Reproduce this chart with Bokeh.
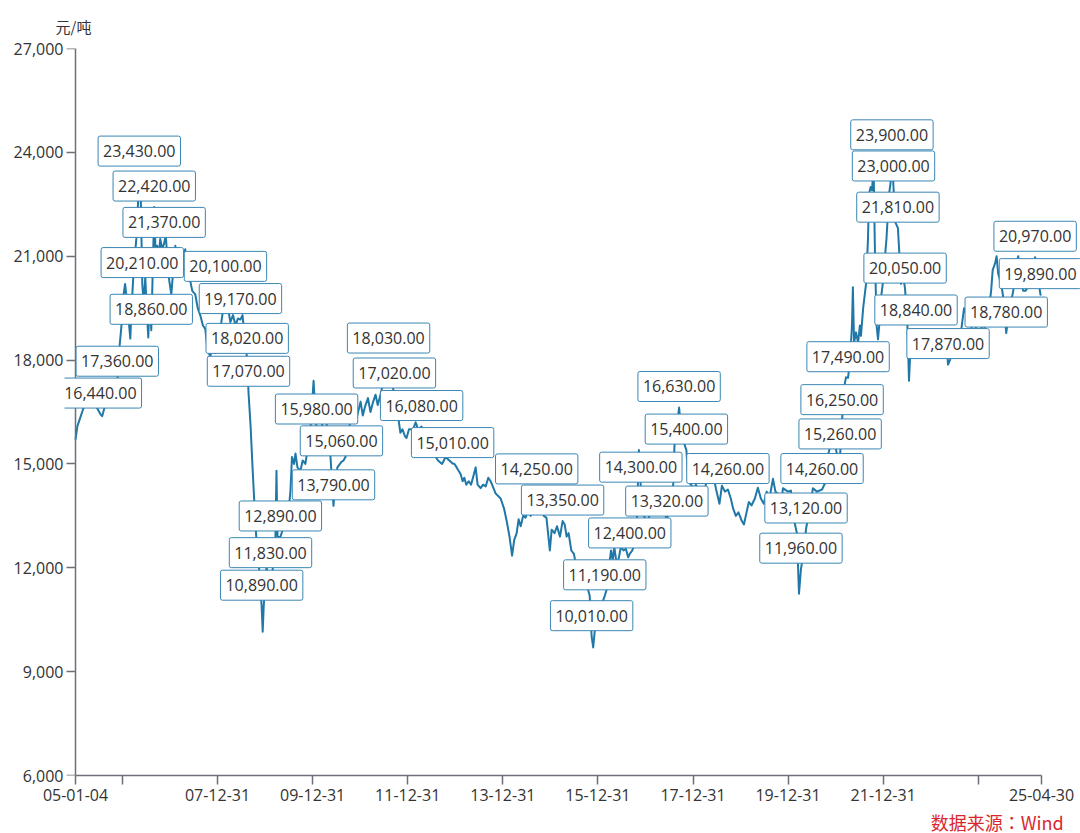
import pandas as pd
from bokeh.plotting import figure
from bokeh.layouts import column
from bokeh.models import Label, FixedTicker, NumeralTickFormatter, Range1d, Title, LinearAxis
from bokeh.embed import file_html
from bokeh.resources import INLINE

# ---------------- data ----------------
DATES = [
    "2005-01-04", "2005-01-19", "2005-02-11", "2005-03-05", "2005-04-05", "2005-05-13", "2005-06-13",
    "2005-07-14", "2005-07-28", "2005-08-13", "2005-09-13", "2005-10-13", "2005-11-05", "2005-11-21",
    "2005-12-06", "2005-12-21", "2006-01-05", "2006-01-20", "2006-02-06", "2006-02-20", "2006-03-01",
    "2006-03-12", "2006-03-24", "2006-04-05", "2006-04-16", "2006-04-28", "2006-05-09", "2006-05-20",
    "2006-06-01", "2006-06-12", "2006-06-24", "2006-07-05", "2006-07-17", "2006-07-28", "2006-08-09",
    "2006-08-20", "2006-09-01", "2006-09-12", "2006-09-24", "2006-10-05", "2006-10-17", "2006-11-01",
    "2006-11-16", "2006-11-28", "2006-12-10", "2006-12-25", "2007-01-10", "2007-01-25", "2007-02-10",
    "2007-02-25", "2007-03-15", "2007-04-05", "2007-04-27", "2007-05-15", "2007-06-04", "2007-06-20",
    "2007-07-13", "2007-08-01", "2007-08-20", "2007-09-10", "2007-09-28", "2007-10-15", "2007-11-05",
    "2007-11-25", "2007-12-14", "2008-01-05", "2008-01-22", "2008-02-10", "2008-03-01", "2008-03-20",
    "2008-04-08", "2008-04-28", "2008-05-17", "2008-06-05", "2008-06-24", "2008-07-10", "2008-07-25",
    "2008-08-15", "2008-08-25", "2008-09-10", "2008-09-25", "2008-10-10", "2008-10-25", "2008-11-05",
    "2008-11-17", "2008-11-28", "2008-12-04", "2008-12-12", "2008-12-20", "2008-12-31", "2009-01-10",
    "2009-01-20", "2009-02-10", "2009-02-25", "2009-03-10", "2009-03-20", "2009-03-28", "2009-04-05",
    "2009-04-27", "2009-05-15", "2009-06-05", "2009-06-20", "2009-07-13", "2009-07-25", "2009-08-10",
    "2009-08-21", "2009-09-05", "2009-09-28", "2009-10-15", "2009-11-05", "2009-11-25", "2009-12-14",
    "2010-01-07", "2010-01-20", "2010-01-30", "2010-02-15", "2010-03-02", "2010-03-20", "2010-04-09",
    "2010-04-25", "2010-05-17", "2010-06-09", "2010-06-25", "2010-07-09", "2010-08-09", "2010-08-25",
    "2010-09-09", "2010-09-25", "2010-10-17", "2010-11-05", "2010-11-25", "2010-12-15", "2011-01-03",
    "2011-01-20", "2011-02-10", "2011-03-01", "2011-03-20", "2011-04-10", "2011-04-28", "2011-05-15",
    "2011-06-05", "2011-07-06", "2011-08-06", "2011-08-20", "2011-09-20", "2011-10-05", "2011-10-21",
    "2011-11-05", "2011-11-21", "2011-12-10", "2011-12-22", "2012-01-10", "2012-02-10", "2012-03-01",
    "2012-03-20", "2012-04-16", "2012-05-05", "2012-05-25", "2012-06-10", "2012-07-15", "2012-08-20",
    "2012-09-20", "2012-10-17", "2012-11-15", "2012-12-10", "2012-12-25", "2013-01-10", "2013-01-25",
    "2013-02-10", "2013-02-25", "2013-03-10", "2013-03-25", "2013-04-13", "2013-05-01", "2013-06-05",
    "2013-06-20", "2013-07-13", "2013-08-01", "2013-08-21", "2013-09-10", "2013-09-28", "2013-10-20",
    "2013-11-05", "2013-12-14", "2014-01-10", "2014-02-01", "2014-02-20", "2014-03-12", "2014-03-28",
    "2014-04-16", "2014-05-01", "2014-05-17", "2014-06-05", "2014-06-24", "2014-07-15", "2014-08-02",
    "2014-08-20", "2014-09-05", "2014-09-17", "2014-10-05", "2014-10-25", "2014-11-10", "2014-12-01",
    "2014-12-27", "2015-01-10", "2015-02-01", "2015-02-20", "2015-03-15", "2015-04-04", "2015-04-20",
    "2015-05-05", "2015-05-20", "2015-06-10", "2015-06-30", "2015-07-20", "2015-08-10", "2015-08-25",
    "2015-09-15", "2015-10-06", "2015-10-29", "2015-11-13", "2015-11-25", "2015-12-10", "2015-12-22",
    "2016-01-10", "2016-01-25", "2016-02-22", "2016-03-10", "2016-03-24", "2016-04-10", "2016-04-23",
    "2016-05-05", "2016-05-24", "2016-06-10", "2016-06-24", "2016-07-15", "2016-08-02", "2016-08-20",
    "2016-09-01", "2016-09-20", "2016-10-10", "2016-10-25", "2016-11-10", "2016-11-25", "2016-12-18",
    "2017-01-17", "2017-02-17", "2017-03-19", "2017-04-27", "2017-05-20", "2017-06-13", "2017-07-13",
    "2017-08-01", "2017-08-10", "2017-09-15", "2017-10-05", "2017-11-10", "2017-11-25", "2017-12-14",
    "2018-01-10", "2018-01-22", "2018-02-15", "2018-03-01", "2018-03-20", "2018-04-08", "2018-04-20",
    "2018-05-17", "2018-06-10", "2018-06-24", "2018-07-22", "2018-08-10", "2018-09-02", "2018-09-25",
    "2018-10-17", "2018-11-05", "2018-11-25", "2018-12-15", "2019-01-10", "2019-01-26", "2019-02-15",
    "2019-03-05", "2019-03-25", "2019-04-20", "2019-05-13", "2019-06-05", "2019-06-28", "2019-07-20",
    "2019-08-10", "2019-09-06", "2019-09-25", "2019-10-14", "2019-11-05", "2019-11-22", "2019-12-10",
    "2019-12-31", "2020-01-22", "2020-02-14", "2020-03-08", "2020-03-24", "2020-04-08", "2020-05-01",
    "2020-05-17", "2020-06-09", "2020-07-09", "2020-08-09", "2020-09-17", "2020-10-17", "2020-11-05",
    "2020-11-25", "2020-12-15", "2021-01-03", "2021-01-20", "2021-02-03", "2021-02-18", "2021-03-05",
    "2021-03-20", "2021-04-05", "2021-04-20", "2021-05-05", "2021-05-12", "2021-05-21", "2021-06-05",
    "2021-06-21", "2021-07-05", "2021-07-13", "2021-07-30", "2021-08-21", "2021-09-05", "2021-09-13",
    "2021-09-25", "2021-10-06", "2021-10-18", "2021-10-29", "2021-11-10", "2021-11-21", "2021-12-05",
    "2021-12-14", "2021-12-31", "2022-01-14", "2022-01-25", "2022-02-14", "2022-02-25", "2022-03-08",
    "2022-03-20", "2022-04-01", "2022-04-23", "2022-05-17", "2022-06-01", "2022-06-17", "2022-07-05",
    "2022-07-17", "2022-07-28", "2022-08-09", "2022-08-25", "2022-09-09", "2022-09-25", "2022-10-17",
    "2022-11-05", "2022-11-25", "2022-12-15", "2023-01-03", "2023-01-20", "2023-02-10", "2023-03-01",
    "2023-03-20", "2023-04-10", "2023-04-25", "2023-05-13", "2023-05-28", "2023-06-20", "2023-07-10",
    "2023-07-29", "2023-08-20", "2023-09-13", "2023-10-13", "2023-11-05", "2023-11-21", "2023-12-10",
    "2023-12-31", "2024-01-20", "2024-02-06", "2024-03-01", "2024-03-16", "2024-04-08", "2024-04-20",
    "2024-05-09", "2024-05-20", "2024-06-01", "2024-06-24", "2024-07-15", "2024-08-02", "2024-08-20",
    "2024-09-09", "2024-09-25", "2024-10-10", "2024-11-02", "2024-11-20", "2024-12-10", "2024-12-28",
    "2025-01-15", "2025-01-25", "2025-02-15", "2025-03-12", "2025-03-25", "2025-04-22", "2025-04-30",
]

PRICES = [
    15700, 16100, 16350, 16600, 16780, 16830, 16650,
    16440, 16380, 16600, 16780, 16950, 17150, 17360,
    18300, 18900, 19800, 20200, 19600, 19000, 18620,
    19600, 20400, 21000, 21500, 22400, 23430, 22800,
    20210, 19600, 20400, 19500, 18650, 19800, 18860,
    20500, 22420, 21000, 21300, 21000, 21500, 21200,
    21370, 21600, 21000, 20300, 19900, 20600, 21300,
    20800, 21200, 20900, 21200, 20500, 20300, 20000,
    19900, 19500, 19300, 19000, 18900, 18300, 18100,
    18400, 18200, 18500, 18900, 19400, 20100, 19500,
    19100, 19300, 19000, 19200, 19170, 19300, 18700,
    18020, 17070, 16100, 14900, 13800, 12800, 12600,
    11800, 11200, 10890, 10150, 10900, 11500, 12000,
    11900, 11830, 11900, 12300, 12900, 14800, 12900,
    12890, 13100, 13500, 13300, 14200, 15200, 15000,
    15300, 14900, 14800, 15100, 15000, 15500, 16000,
    17400, 16500, 15980, 15600, 16000, 16200, 16300,
    16000, 15200, 13790, 14600, 14900, 15060, 15100,
    15200, 15600, 16300, 16600, 16200, 16500, 16800,
    16400, 16700, 16900, 16500, 16800, 17000, 16700,
    17000, 17500, 18030, 17500, 17020, 16700, 16300,
    15900, 16000, 15800, 15750, 16000, 16000, 16200,
    16000, 16080, 15900, 15700, 15500, 15300, 15100,
    15000, 15200, 15100, 15010, 15000, 14900, 14800,
    14700, 14500, 14600, 14400, 14500, 14400, 14900,
    14400, 14300, 14400, 14350, 14600, 14500, 14300,
    14150, 14000, 13700, 13300, 12900, 12350, 12800,
    13000, 13400, 13200, 13500, 13450, 13700, 13500,
    13800, 14000, 14250, 13600, 13800, 13500, 13450,
    12500, 13100, 13000, 13200, 12900, 13350, 13250,
    12900, 13000, 12500, 12400, 12000, 11900, 11600,
    11700, 11500, 11200, 10010, 9700, 10300, 10600,
    10500, 10900, 11190, 11400, 12000, 12500, 12200,
    12600, 12100, 12300, 12600, 12500, 12550, 12300,
    12400, 12500, 12700, 13300, 15400, 14300, 13500,
    13300, 13800, 14100, 13700, 13800, 13320, 14200,
    14400, 15500, 16630, 15800, 15400, 14500, 14400,
    14300, 14400, 14200, 14300, 13900, 14400, 14700,
    14500, 14600, 14300, 13850, 14370, 14200, 14260,
    14000, 13700, 13500, 13600, 13350, 13250, 13600,
    13900, 13800, 14000, 14310, 14000, 13850, 14200,
    14000, 14570, 14200, 14140, 13800, 14300, 14250,
    14200, 14230, 13400, 13000, 11250, 11960, 12500,
    13120, 13600, 14300, 14200, 14260, 14500, 15300,
    15600, 16000, 15400, 15100, 15260, 16250, 17200,
    17500, 17490, 18000, 19000, 20100, 18500, 18800,
    18500, 19000, 18700, 19500, 20200, 21500, 22800,
    23000, 22900, 23600, 21000, 19000, 18600, 19200,
    19800, 20300, 21000, 21500, 22800, 23100, 23900,
    23000, 22000, 21810, 20200, 20500, 20050, 19000,
    17400, 18300, 18600, 18900, 18840, 18600, 18300,
    18500, 18900, 18700, 18500, 18700, 18300, 18600,
    18100, 18500, 18800, 17870, 18000, 18300, 18200,
    18600, 18800, 19500, 19200, 19000, 18800, 18900,
    19200, 19000, 18800, 19100, 19300, 20000, 20600,
    20800, 21000, 20500, 20200, 19700, 18780, 19300,
    19700, 20000, 20600, 21000, 20400, 20000, 20000,
    20100, 20300, 20600, 20970, 20600, 19890, 19900,
]

LABEL_DATES = [
    "2005-07-14", "2005-11-21", "2006-05-09", "2006-06-01", "2006-08-09", "2006-09-01",
    "2006-11-16", "2008-03-01", "2008-06-24", "2008-08-15", "2008-08-25", "2008-12-04",
    "2009-02-10", "2009-04-27", "2010-01-30", "2010-06-09", "2010-08-09", "2011-08-06",
    "2011-09-20", "2012-04-16", "2012-12-10", "2014-09-17", "2015-04-04", "2015-11-13",
    "2016-02-22", "2016-09-01", "2016-11-25", "2017-06-13", "2017-09-15", "2017-11-10",
    "2018-09-25", "2020-04-08", "2020-05-17", "2020-09-17", "2021-02-03", "2021-02-18",
    "2021-04-05", "2022-03-08", "2022-03-20", "2022-04-23", "2022-06-17", "2022-09-09",
    "2023-05-13", "2024-08-02", "2025-03-12", "2025-04-22",
]

X_TICK_DATES = ["2005-01-04", "2005-12-31", "2007-12-31", "2009-12-31", "2011-12-31", "2013-12-31",
                "2015-12-31", "2017-12-31", "2019-12-31", "2021-12-31", "2023-12-31", "2025-04-30"]
X_TICK_LABELS = ["05-01-04", "", "07-12-31", "09-12-31", "11-12-31", "13-12-31",
                 "15-12-31", "17-12-31", "19-12-31", "21-12-31", "", "25-04-30"]
Y_TICKS = [6000, 9000, 12000, 15000, 18000, 21000, 24000, 27000]
UNIT = "元/吨"
SOURCE = "数据来源：Wind"

# ---------------- styling / layout ----------------
LINE_COLOR = "#1f78a8"
BOX_BORDER = "#3a86b4"
TEXT_COLOR = "#333333"
AXIS_COLOR = "#6E7079"
SOURCE_COLOR = "#d9272e"
FONT = "Open Sans"
CJK_FONT = "Noto Sans CJK SC"
NOTE_FONT = "Noto Sans CJK TC"

W = 1080
H_MAIN, H_NOTE = 810, 23
FRAME_LEFT = 64        # left edge of the plotting area (width of the y label panel)
AXIS_X = 75            # where the y axis / first date sits
TOP, FRAME_BOTTOM = 48, 775
AXIS_W = 966           # pixel length of the drawn x axis (05-01-04 .. 25-04-30)


def ms(d):
    return float(pd.Timestamp(d).value // 10**6)


xs = [ms(d) for d in DATES]
x0, x1 = ms(X_TICK_DATES[0]), ms(X_TICK_DATES[-1])
x_per_px = (x1 - x0) / AXIS_W
x_start = x0 - (AXIS_X - FRAME_LEFT) * x_per_px
x_end = x_start + (W - FRAME_LEFT) * x_per_px
y_min, y_max = Y_TICKS[0], Y_TICKS[-1]

p = figure(width=W, height=H_MAIN,
           x_range=Range1d(x_start, x_end),
           y_range=Range1d(y_min, y_max),
           y_axis_location=None,
           output_backend="svg", toolbar_location=None,
           min_border_left=FRAME_LEFT, min_border_right=0,
           min_border_top=TOP, min_border_bottom=H_MAIN - FRAME_BOTTOM)
p.outline_line_color = None
p.xgrid.visible = False
p.ygrid.visible = False
p.background_fill_color = "white"

# unit name above the y axis
p.add_layout(Title(text=UNIT, align="left", offset=55 - FRAME_LEFT, standoff=24,
                   text_font=CJK_FONT, text_font_size="15px", text_font_style="normal",
                   text_color=TEXT_COLOR), "above")

# x axis
tick_ms = [ms(d) for d in X_TICK_DATES]
xa = p.xaxis[0]
xa.ticker = FixedTicker(ticks=tick_ms)
xa.major_label_overrides = {int(t): lab for t, lab in zip(tick_ms, X_TICK_LABELS)}
xa.bounds = (x0, x1)
xa.major_label_standoff = 4

# y axis: value labels in the side panel, line + ticks drawn at the first date
y_labels = LinearAxis(ticker=FixedTicker(ticks=Y_TICKS), formatter=NumeralTickFormatter(format="0,0"),
                      axis_line_color=None, major_tick_line_color=None, minor_tick_line_color=None,
                      major_tick_in=0, major_tick_out=0, major_label_standoff=1)
y_line = LinearAxis(ticker=FixedTicker(ticks=Y_TICKS), fixed_location=x0,
                    major_label_overrides={t: "" for t in Y_TICKS}, major_label_standoff=0)
p.add_layout(y_labels, "left")
p.add_layout(y_line, "left")

for ax in (xa, y_line):
    ax.axis_line_color = AXIS_COLOR
    ax.axis_line_width = 1.5
    ax.major_tick_line_color = AXIS_COLOR
    ax.major_tick_line_width = 1.5
    ax.major_tick_in = 0
    ax.major_tick_out = 9
    ax.minor_tick_line_color = None
for ax in (xa, y_labels):
    ax.major_label_text_font = FONT
    ax.major_label_text_font_size = "16px"
    ax.major_label_text_color = TEXT_COLOR

# line
p.line(xs, PRICES, line_width=2, line_color=LINE_COLOR, line_join="round")

# value callouts
price_of = dict(zip(DATES, PRICES))
for d in LABEL_DATES:
    v = price_of[d]
    p.add_layout(Label(x=ms(d), y=v, text=f"{v:,.2f}",
                       text_align="center", text_baseline="bottom", y_offset=6,
                       text_font=FONT, text_font_size="16px", text_color=TEXT_COLOR,
                       background_fill_color="white", border_line_color=BOX_BORDER,
                       border_line_width=1, padding=dict(x=5, y=9), border_radius=2))

# source note strip under the chart
note = figure(width=W, height=H_NOTE, x_range=Range1d(0, W), y_range=Range1d(0, H_NOTE),
              output_backend="svg", toolbar_location=None,
              x_axis_location=None, y_axis_location=None, min_border=0)
note.outline_line_color = None
note.xgrid.visible = False
note.ygrid.visible = False
note.add_layout(Label(x=1062, y=12, text=SOURCE, text_align="right", text_baseline="middle",
                      text_font=NOTE_FONT, text_font_size="18px", text_color=SOURCE_COLOR))

page = column(p, note, spacing=0)
open("out.html", "w").write(file_html(page, INLINE))
